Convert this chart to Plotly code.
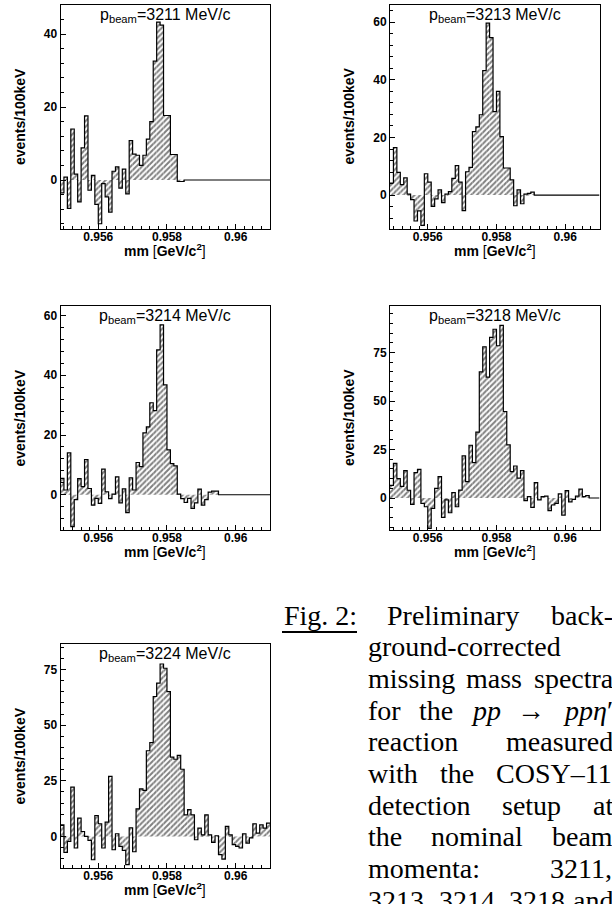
import plotly.graph_objects as go

# missing-mass binning [GeV/c^2], 100 keV bins
bin_lo = 0.9549
bin_width = 0.0001
n_bins = 61

beam_momenta = ["3211", "3213", "3214", "3218", "3224"]

counts_3211 = [-3.5, 0.8, -7.8, 14.0, 1.6, -6.0, 8.8, 17.6, -2.8, 1.3,
               -6.7, -12.0, -1.0, -4.6, -8.8, 2.4, 3.6, -2.2, 3.0, -3.8,
               10.8, 7.1, 6.8, 4.0, 6.8, 11.2, 16.0, 32.6, 43.3, 42.5,
               17.7, 17.7, 7.0, 7.0, -0.4, -0.4, 0, 0, 0, 0,
               0, 0, 0, 0, 0, 0, 0, 0, 0, 0,
               0, 0, 0, 0, 0, 0, 0, 0, 0, 0, 0]

counts_3213 = [4.2, 16.5, 7.9, 3.6, 6.0, 0.3, -1.6, -9.0, -5.5, -10.5,
               7.4, 4.5, -3.9, -1.3, 1.8, -2.6, 0.3, 1.2, 5.8, 10.2,
               4.5, -5.4, 8.1, 9.6, 22.0, 23.7, 27.9, 43.2, 59.7, 54.7,
               29.0, 36.0, 20.3, 9.4, 9.4, 5.3, -3.7, 1.8, -3.0, 0.3,
               0.6, 1.0, 0, 0, 0, 0, 0, 0, 0, 0,
               0, 0, 0, 0, 0, 0, 0, 0, 0, 0, 0]

counts_3214 = [5.5, 1.6, 14.0, -10.7, -1.6, 5.4, 2.7, 11.8, 2.1, -3.5,
               -1.2, -2.9, 8.6, 1.0, -1.3, 0.2, 6.0, -2.7, 2.0, -6.0,
               5.7, 1.6, 10.8, 9.4, 20.7, 22.7, 30.8, 28.2, 48.5, 56.9,
               36.8, 15.0, 10.4, 9.7, 0.2, -1.3, -2.6, -1.2, -4.6, -2.7,
               1.9, -3.5, -1.6, 0.9, 1.2, 1.2, 0, 0, 0, 0,
               0, 0, 0, 0, 0, 0, 0, 0, 0, 0, 0]

counts_3218 = [6.5, 17.9, 10.0, 6.0, 14.1, 4.0, -3.3, 13.1, 14.8, -2.8,
               -4.5, -15.7, -5.3, 5.0, 11.0, -10.0, -1.0, -7.6, 2.8, -4.5,
               4.1, 21.7, 8.4, 27.2, 18.2, 34.0, 65.0, 78.0, 62.3, 82.8,
               87.0, 78.5, 89.0, 44.6, 27.4, 13.6, 16.5, 10.2, 14.1, -1.4,
               0.7, -4.8, 7.9, -1.0, 0.7, 1.0, -6.5, -3.6, -2.8, 2.1,
               -8.8, 3.8, -2.0, -0.7, 1.0, 4.6, 0.7, 1.2, 0, 0, 0]

counts_3224 = [5.2, -7.2, -2.2, 22.2, -5.2, 8.2, 2.2, 0.0, -1.8, -10.5,
               9.4, 5.7, -5.2, 6.4, 27.0, -6.0, 1.2, -4.5, -6.3, -12.7,
               3.9, -6.9, 12.4, 21.4, 20.7, 38.5, 42.2, 62.9, 68.9, 77.5,
               75.6, 65.1, 35.6, 34.7, 36.4, 30.2, 9.7, 12.0, 9.7, -1.5,
               3.7, 0.7, 9.7, 0.7, -2.7, 0.3, -8.2, -10.2, 4.5, 0.7,
               -3.7, -4.5, -5.2, 1.2, -3.0, -0.7, 5.7, 1.5, 5.2, 3.7, 6.0]

all_counts = [counts_3211, counts_3213, counts_3214, counts_3218, counts_3224]

x_ticks = [0.956, 0.958, 0.96]
x_ticklabels = ["0.956", "0.958", "0.96"]
y_ticks = [[0, 20, 40], [0, 20, 40, 60], [0, 20, 40, 60], [0, 25, 50, 75], [0, 25, 50, 75]]

# caption words, one list per printed line (justified paragraph)
caption_label = "Fig. 2:"
caption_lines = [
    ["Preliminary", "back-"],
    ["ground-corrected"],
    ["missing", "mass", "spectra"],
    ["for", "the", "<i>pp</i>", "\u2192", "<i>pp\u03b7</i>\u2032"],
    ["reaction", "measured"],
    ["with", "the", "COSY\u201311"],
    ["detection", "setup", "at"],
    ["the", "nominal", "beam"],
    ["momenta:", "3211,"],
    ["3213,", "3214,", "3218", "and"],
]

W, H = 612, 904

# panel frames in pixels: (left, right), (top, bottom), y range, minor y step
panels = [
    dict(px=(60.5, 270), py=(4.7, 228.5), yr=[-13.3, 48.1], ym=4),
    dict(px=(390, 599.5), py=(4.7, 228.5), yr=[-11.6, 66.1], ym=4),
    dict(px=(60.5, 270), py=(306, 530), yr=[-11.8, 63.2], ym=4),
    dict(px=(390, 599.5), py=(306, 530), yr=[-16.5, 99.0], ym=5),
    dict(px=(60.5, 270), py=(644, 868), yr=[-14.2, 86.5], ym=5),
]

edges = [bin_lo + i * bin_width for i in range(n_bins + 1)]
centers = [bin_lo + (i + 0.5) * bin_width for i in range(n_bins)]

sans = "Liberation Sans, Arial, sans-serif"
serif = "Liberation Serif, Times New Roman, serif"

fig = go.Figure()
layout = {}
annotations = []

for i, (p, counts, pan) in enumerate(zip(beam_momenta, all_counts, panels)):
    n = "" if i == 0 else str(i + 1)
    xa, ya = "x" + n, "y" + n

    fig.add_trace(go.Bar(
        x=centers, y=counts, width=bin_width, xaxis=xa, yaxis=ya,
        marker=dict(color="white", line=dict(width=0),
                    pattern=dict(shape="/", fgcolor="black", bgcolor="white",
                                 size=4, solidity=0.5)),
        showlegend=False, hoverinfo="skip"))
    fig.add_trace(go.Scatter(
        x=edges, y=counts + [counts[-1]], mode="lines", xaxis=xa, yaxis=ya,
        line=dict(color="black", width=1.2, shape="hv"),
        showlegend=False, hoverinfo="skip"))

    x0, x1 = pan["px"][0] / W, pan["px"][1] / W
    y0, y1 = 1 - pan["py"][1] / H, 1 - pan["py"][0] / H
    tickfont = dict(family=sans, size=12, color="black", weight="bold")

    layout["xaxis" + n] = dict(
        domain=[x0, x1], anchor=ya, range=[bin_lo, bin_lo + n_bins * bin_width],
        tickvals=x_ticks, ticktext=x_ticklabels, ticks="inside", ticklen=5,
        tickcolor="black", tickfont=tickfont, ticklabelstandoff=-3,
        minor=dict(tick0=0.956, dtick=0.00025, ticks="inside", ticklen=3, tickcolor="black"),
        showline=True, mirror=True, linecolor="black", linewidth=1,
        showgrid=False, zeroline=False)
    layout["yaxis" + n] = dict(
        domain=[y0, y1], anchor=xa, range=pan["yr"],
        tickvals=y_ticks[i], ticks="inside", ticklen=5, tickcolor="black",
        tickfont=tickfont,
        minor=dict(tick0=0, dtick=pan["ym"], ticks="inside", ticklen=3, tickcolor="black"),
        showline=True, mirror=True, linecolor="black", linewidth=1,
        showgrid=False, zeroline=False)

    xc = (x0 + x1) / 2
    annotations.append(dict(
        text=f"p<sub>beam</sub>={p} MeV/c", x=xc, y=y1, xref="paper", yref="paper",
        xanchor="center", yanchor="top", yshift=1, showarrow=False,
        font=dict(family=sans, size=16, color="black")))
    annotations.append(dict(
        text="<b>mm</b> [<b>GeV/c<sup>2</sup></b>]", x=xc, y=1 - (pan["py"][1] + 21) / H,
        xref="paper", yref="paper", xanchor="center", yanchor="middle",
        showarrow=False, font=dict(family=sans, size=14, color="black")))
    annotations.append(dict(
        text="<b>events/100keV</b>", x=(pan["px"][0] - 41) / W, y=(y0 + y1) / 2,
        xref="paper", yref="paper", xanchor="center", yanchor="middle",
        textangle=-90, showarrow=False, font=dict(family=sans, size=14, color="black")))

# --- caption: rough Times metrics to justify the words like the LaTeX original
times_w = dict(a=444, b=500, c=444, d=500, e=444, f=333, g=500, h=500, i=278, j=278,
               k=500, l=278, m=778, n=500, o=500, p=500, q=500, r=333, s=389, t=278,
               u=500, v=500, w=722, x=500, y=500, z=444, C=667, F=556, O=722, P=556,
               S=556, Y=722)
times_w.update({",": 250, ".": 250, ":": 278, "-": 333, "\u2013": 500, " ": 250,
                "\u2192": 1000, "\u03b7": 500, "\u2032": 300})


def word_width(word, size):
    plain = word.replace("<i>", "").replace("</i>", "")
    return sum(times_w.get(ch, 500) for ch in plain) * size / 1000


cap_size = 28
cap_left, cap_right = 366, 611
first_base, line_step = 624, 31.7

for li, words in enumerate(caption_lines):
    base = first_base + li * line_step
    yp = 1 - (base - 0.32 * cap_size) / H
    left = 385 if li == 0 else cap_left
    widths = [word_width(w, cap_size) for w in words]
    if len(words) > 1:
        gap = (cap_right - left - sum(widths)) / (len(words) - 1)
    else:
        gap = 0
    xpos = left
    for w, wd in zip(words, widths):
        annotations.append(dict(
            text=w, x=xpos / W, y=yp, xref="paper", yref="paper",
            xanchor="left", yanchor="middle", showarrow=False,
            font=dict(family=serif, size=cap_size, color="black")))
        xpos += wd + gap

annotations.append(dict(
    text=caption_label, x=282 / W, y=1 - (first_base - 0.32 * cap_size) / H,
    xref="paper", yref="paper", xanchor="left", yanchor="middle", showarrow=False,
    font=dict(family=serif, size=cap_size, color="black")))

layout["shapes"] = [dict(type="line", xref="paper", yref="paper",
                         x0=282 / W, x1=357 / W, y0=1 - 632 / H, y1=1 - 632 / H,
                         line=dict(color="black", width=2))]

fig.update_layout(
    width=W, height=H, margin=dict(l=0, r=0, t=0, b=0),
    paper_bgcolor="white", plot_bgcolor="white", showlegend=False,
    barmode="overlay", hovermode=False, annotations=annotations, **layout)

fig.write_html("out.html", config={"displayModeBar": False},
               post_script="document.body.style.margin='0';"
                           "document.body.style.overflow='hidden';")
